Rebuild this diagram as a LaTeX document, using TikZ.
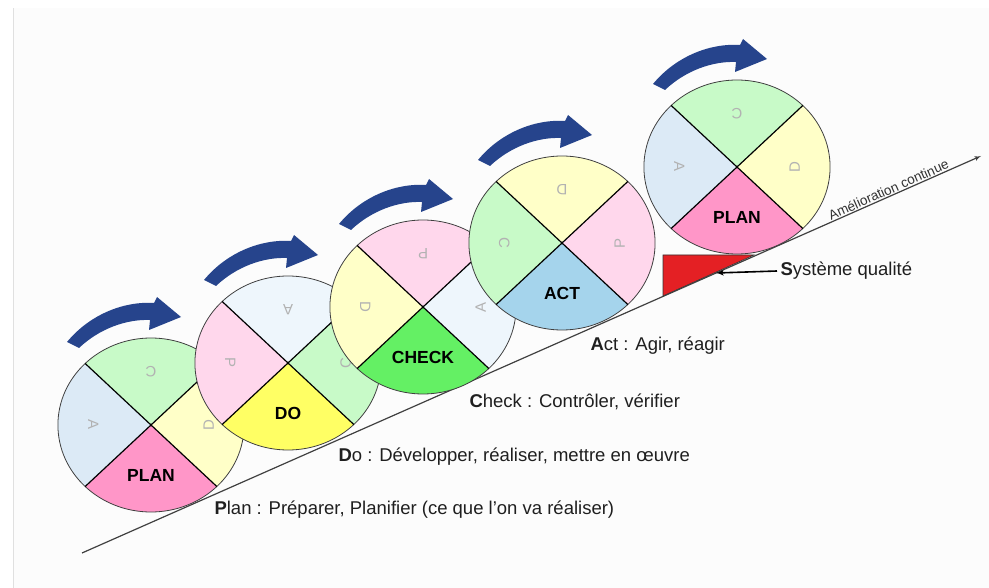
\documentclass[tikz,border=0pt]{standalone}
\usepackage{fontspec}
\setmainfont{Liberation Sans}
\usepackage{tikz}
\usetikzlibrary{arrows}
\usetikzlibrary{positioning}
\definecolor{rollblue}{RGB}{38,68,140}
\definecolor{planpink}{RGB}{255,150,200}
\definecolor{lightpink}{RGB}{255,215,236}
\definecolor{lightblue}{RGB}{220,234,246}
\definecolor{paleblue}{RGB}{238,246,252}
\definecolor{lightgreen}{RGB}{200,250,200}
\definecolor{lightyellow}{RGB}{255,255,200}
\definecolor{doyellow}{RGB}{255,255,100}
\definecolor{checkgreen}{RGB}{100,240,100}
\definecolor{actblue}{RGB}{165,212,236}
\definecolor{qred}{RGB}{228,32,36}
\definecolor{bgray}{RGB}{252,252,252}
\tikzset{phase/.style = {font=\fontsize{17.5}{18}\selectfont\bfseries}}
\tikzset{letter/.style = {text=black!30, font=\fontsize{15}{15}\selectfont}}
\tikzset{legend/.style = {anchor=west, text=black!88, font=\fontsize{18.5}{18.5}\selectfont}}
% one PDCA wheel: centre, then bottom/left/top/right colour and text
\newcommand{\wheel}[9]{%
  \begin{scope}[shift={(#1)}, xscale=1.07]
    \fill [#2] (0, 0) -- (225:87) arc (225:315:87) -- cycle;
    \fill [#4] (0, 0) -- (135:87) arc (135:225:87) -- cycle;
    \fill [#6] (0, 0) -- (45:87) arc (45:135:87) -- cycle;
    \fill [#8] (0, 0) -- (-45:87) arc (-45:45:87) -- cycle;
    \draw [black!75, line width=0.8] (0, 0) circle (87);
    \draw [line width=1.2] (135:87) -- (-45:87) (45:87) -- (225:87);
    \node [phase] (#1-b) at (0, -50) {#3};
    \node [letter, rotate=-90] (#1-l) at (-54, 0) {#5};
    \node [letter, rotate=180] (#1-t) at (0, 53) {#7};
    \node [letter, rotate=90] (#1-r) at (54, 0) {#9};
  \end{scope}}
\newcommand{\roll}[1]{%
  \fill [rollblue, shift={(#1)}] (-84, 83) .. controls (-60, 112) and (-25, 124) .. (3, 122)
    -- (6, 128) -- (30, 108) -- (-2, 95) -- (-1, 105)
    .. controls (-25, 106) and (-52, 96) .. (-72, 77) -- cycle;}

\begin{document}
\begin{tikzpicture}[x=1pt, y=1pt]
    \useasboundingbox (0, 0) rectangle (989, -588);
    \fill [bgray] (13, -8) rectangle (989, -588);
    \draw [black!12] (13, -8) -- (13, -588);

    \coordinate (w1) at (151, -425);
    \coordinate (w2) at (288, -363);
    \coordinate (w3) at (423, -307);
    \coordinate (w4) at (562, -243);
    \coordinate (w5) at (737, -167);

    \fill [qred, draw=black!80, line width=0.6] (663, -255) -- (754, -255) -- (663, -296) -- cycle;

    \coordinate (start) at (82, -553);
    \coordinate (end) at (981, -156);
    \draw [black!75, line width=1.2, -{latex'[scale=1.6]}] (start) -- (end)
        node (amelio) [pos=0.9, sloped, above, inner sep=1pt, text=black!80,
                       font=\fontsize{13.5}{14}\selectfont] {Amélioration continue};

    \wheel{w1}{planpink}{PLAN}{lightblue}{A}{lightgreen}{C}{lightyellow}{D}
    \wheel{w2}{doyellow}{DO}{lightpink}{P}{paleblue}{A}{lightgreen}{C}
    \wheel{w3}{checkgreen}{CHECK}{lightyellow}{D}{lightpink}{P}{paleblue}{A}
    \wheel{w4}{actblue}{ACT}{lightgreen}{C}{lightyellow}{D}{lightpink}{P}
    \wheel{w5}{planpink}{PLAN}{lightblue}{A}{lightgreen}{C}{lightyellow}{D}

    \roll{w1}
    \roll{w2}
    \roll{w3}
    \roll{w4}
    \roll{w5}

    \node [legend] (plan-txt) at (211, -510) {{\bfseries P}lan : Préparer, Planifier (ce que l'on va réaliser)};
    \node [legend] (do-txt) at (335, -457) {{\bfseries D}o : Développer, réaliser, mettre en œuvre};
    \node [legend] (check-txt) at (466, -402) {{\bfseries C}heck : Contrôler, vérifier};
    \node [legend] (act-txt) at (587, -346) {{\bfseries A}ct : Agir, réagir};
    \node [legend] (sq) at (777, -271) {{\bfseries S}ystème qualité};

    \coordinate (wedge) at (716, -273);
    \draw [line width=1.6, -{latex'[scale=1.3]}] (sq.west) -- (wedge);
\end{tikzpicture}
\end{document}
